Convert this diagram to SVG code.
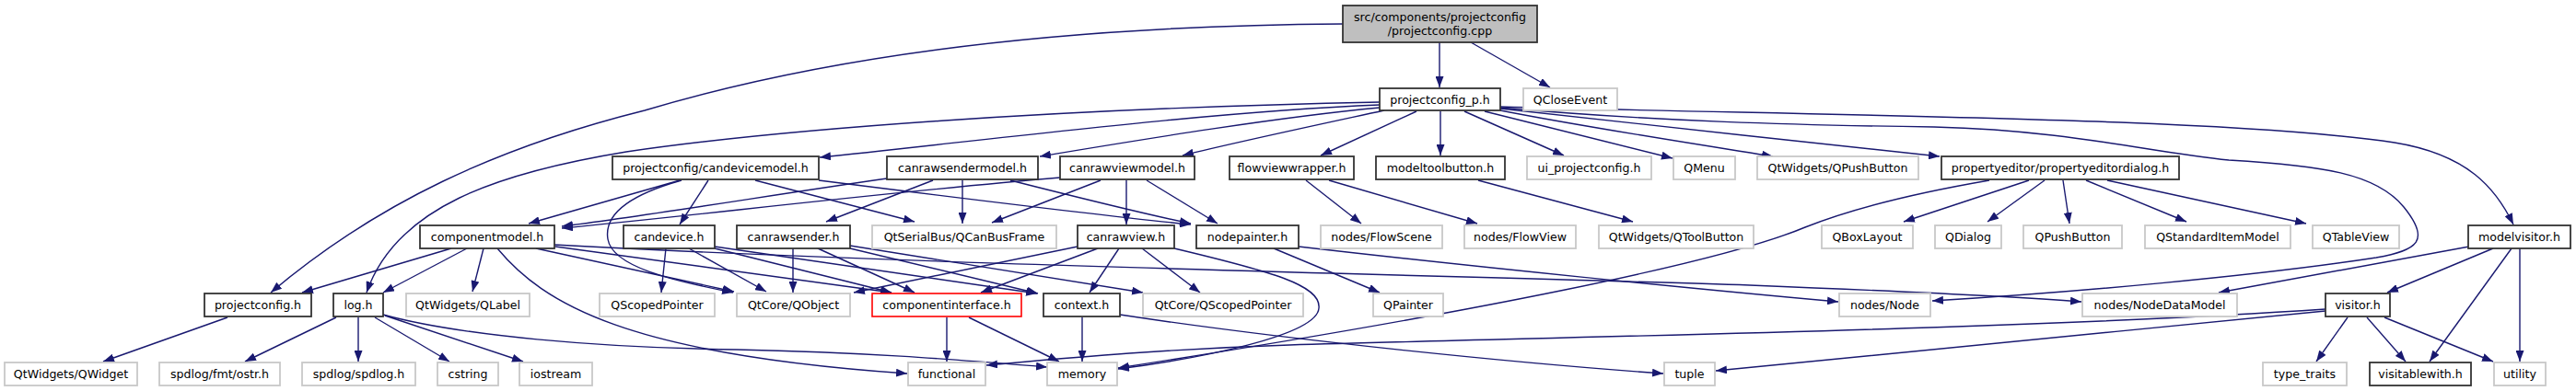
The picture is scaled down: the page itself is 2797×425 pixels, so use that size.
<svg xmlns="http://www.w3.org/2000/svg" width="2797" height="425" viewBox="0 0 2797 425">
<defs>
<marker id="ah" viewBox="0 0 12 9" refX="12" refY="4.5" markerWidth="12" markerHeight="9" markerUnits="userSpaceOnUse" orient="auto">
<path d="M0,0 L12,4.5 L0,9 z" fill="#191970"/>
</marker>
<style>
.n rect{fill:#fff;stroke:#333;stroke-width:1.8}
.g rect{fill:#fff;stroke:#c8c8c8;stroke-width:1.8}
.r rect{fill:#fff;stroke:#ff0000;stroke-width:1.6}
.root rect{fill:#bfbfbf;stroke:#333;stroke-width:1.8}
text{font-family:"DejaVu Sans","Liberation Sans",sans-serif;font-size:12.6px;fill:#000;text-anchor:middle}
#edges path{fill:none;stroke:#191970;stroke-width:1.4;marker-end:url(#ah)}
</style>
</defs>
<rect width="2797" height="425" fill="#fff"/>
<g id="edges">
<path d="M1563,46 L1563,95"/>
<path d="M1597,46 L1683,95"/>
<path d="M1458,26 C1150,28 900,60 700,120 C540,160 410,220 294,318"/>
<path d="M1498,111 C1150,118 850,140 680,165 C540,188 430,225 398,318"/>
<path d="M1498,114 C1300,122 1050,155 890,171"/>
<path d="M1498,117 C1380,128 1220,155 1129,170"/>
<path d="M1503,120 C1420,138 1340,155 1284,169"/>
<path d="M1538,121 L1434,169"/>
<path d="M1564,121 L1564,169"/>
<path d="M1590,121 L1698,169"/>
<path d="M1612,121 L1816,172"/>
<path d="M1629,120 C1720,138 1850,158 1925,170"/>
<path d="M1629,118 C1760,132 1960,155 2106,170"/>
<path d="M1629,116 C2000,126 2420,128 2600,155 C2680,168 2710,205 2729,244"/>
<path d="M1629,117 C1800,132 1950,136 2100,138 C2250,142 2330,165 2420,174 C2520,180 2580,188 2610,225 C2640,262 2625,272 2580,280 C2450,300 2250,318 2098,327"/>
<path d="M738,196 L574,243"/>
<path d="M769,196 L738,244"/>
<path d="M740,196 C690,210 655,230 660,260 C665,290 730,305 796,318"/>
<path d="M820,196 L993,241"/>
<path d="M889,196 C1000,210 1200,235 1293,244"/>
<path d="M963,194 C850,210 700,235 610,246"/>
<path d="M1013,196 L897,241"/>
<path d="M1045,196 L1045,243"/>
<path d="M1097,196 C1160,212 1240,232 1293,243"/>
<path d="M1151,193 C950,210 750,235 610,248"/>
<path d="M1195,196 L1077,242"/>
<path d="M1223,196 L1223,244"/>
<path d="M1245,196 L1322,243"/>
<path d="M1418,196 L1478,243"/>
<path d="M1443,196 L1604,243"/>
<path d="M1605,196 L1773,241"/>
<path d="M2160,196 C2050,215 1990,235 1960,247 C1870,285 1600,340 1214,400"/>
<path d="M2203,196 L2067,241"/>
<path d="M2220,196 L2158,241"/>
<path d="M2240,196 L2247,243"/>
<path d="M2265,196 L2374,241"/>
<path d="M2288,196 L2504,243"/>
<path d="M490,270 L328,318"/>
<path d="M507,270 L416,318"/>
<path d="M525,270 L513,317"/>
<path d="M582,270 L797,317"/>
<path d="M603,268 L968,318"/>
<path d="M602,266 C1000,288 1600,300 1900,310 C2050,316 2180,322 2260,328"/>
<path d="M540,270 C590,330 680,385 985,406"/>
<path d="M723,270 L718,318"/>
<path d="M748,270 L832,317"/>
<path d="M776,270 L968,318"/>
<path d="M776,268 L1126,319"/>
<path d="M861,270 L861,318"/>
<path d="M888,270 L993,318"/>
<path d="M923,270 L1127,319"/>
<path d="M923,267 L1241,318"/>
<path d="M1170,268 L927,318"/>
<path d="M1192,270 L1065,318"/>
<path d="M1215,270 L1183,318"/>
<path d="M1240,270 L1303,318"/>
<path d="M1275,270 C1380,295 1435,310 1432,335 C1430,365 1300,390 1214,401"/>
<path d="M1383,270 L1498,318"/>
<path d="M1410,268 C1600,290 1850,315 1996,328"/>
<path d="M247,345 L112,393"/>
<path d="M365,345 L266,393"/>
<path d="M389,345 L389,393"/>
<path d="M407,345 L488,393"/>
<path d="M418,343 L568,393"/>
<path d="M416,342 C500,365 650,378 800,380 C950,383 1050,392 1137,399"/>
<path d="M1028,345 L1028,393"/>
<path d="M1052,345 L1150,393"/>
<path d="M1175,345 L1175,393"/>
<path d="M1216,342 C1400,370 1650,395 1806,406"/>
<path d="M2681,268 L2409,318"/>
<path d="M2707,270 L2592,318"/>
<path d="M2727,270 L2638,393"/>
<path d="M2736,270 L2736,393"/>
<path d="M2549,345 L2515,393"/>
<path d="M2570,345 L2612,393"/>
<path d="M2589,345 L2707,393"/>
<path d="M2525,336 C2200,358 1700,366 1400,375 C1250,380 1150,390 1071,397"/>
<path d="M2525,338 C2300,360 2000,390 1863,403"/>
</g>
<g id="root" class="root"><rect x="1458" y="6" width="211" height="40"/><text x="1563.5" y="23">src/components/projectconfig</text><text x="1563.5" y="37.5">/projectconfig.cpp</text></g>
<g id="pcp" class="n"><rect x="1498" y="96" width="131" height="24"/><text x="1563.5" y="112.5">projectconfig_p.h</text></g>
<g id="qcloseevent" class="g"><rect x="1654" y="96" width="102" height="24"/><text x="1705" y="112.5">QCloseEvent</text></g>
<g id="cdm" class="n"><rect x="665" y="170" width="224" height="25"/><text x="777" y="186.5">projectconfig/candevicemodel.h</text></g>
<g id="crsm" class="n"><rect x="963" y="170" width="164" height="25"/><text x="1045" y="186.5">canrawsendermodel.h</text></g>
<g id="crvm" class="n"><rect x="1151" y="170" width="146" height="25"/><text x="1224" y="186.5">canrawviewmodel.h</text></g>
<g id="fvw" class="n"><rect x="1335" y="170" width="135" height="25"/><text x="1402.5" y="186.5">flowviewwrapper.h</text></g>
<g id="mtb" class="n"><rect x="1494" y="170" width="140" height="25"/><text x="1564" y="186.5">modeltoolbutton.h</text></g>
<g id="ui" class="g"><rect x="1658" y="170" width="135" height="25"/><text x="1725.5" y="186.5">ui_projectconfig.h</text></g>
<g id="qmenu" class="g"><rect x="1817" y="170" width="67" height="25"/><text x="1850.5" y="186.5">QMenu</text></g>
<g id="qpushbuttonw" class="g"><rect x="1908" y="170" width="175" height="25"/><text x="1995.5" y="186.5">QtWidgets/QPushButton</text></g>
<g id="ped" class="n"><rect x="2108" y="170" width="258" height="25"/><text x="2237" y="186.5">propertyeditor/propertyeditordialog.h</text></g>
<g id="cm" class="n"><rect x="456" y="245" width="146" height="25"/><text x="529" y="261.5">componentmodel.h</text></g>
<g id="cd" class="n"><rect x="677" y="245" width="99" height="25"/><text x="726.5" y="261.5">candevice.h</text></g>
<g id="crs" class="n"><rect x="800" y="245" width="123" height="25"/><text x="861.5" y="261.5">canrawsender.h</text></g>
<g id="qcanbusframe" class="g"><rect x="947" y="245" width="200" height="25"/><text x="1047" y="261.5">QtSerialBus/QCanBusFrame</text></g>
<g id="crv" class="n"><rect x="1170" y="245" width="105" height="25"/><text x="1222.5" y="261.5">canrawview.h</text></g>
<g id="np" class="n"><rect x="1299" y="245" width="111" height="25"/><text x="1354.5" y="261.5">nodepainter.h</text></g>
<g id="flowscene" class="g"><rect x="1434" y="245" width="132" height="25"/><text x="1500" y="261.5">nodes/FlowScene</text></g>
<g id="flowview" class="g"><rect x="1590" y="245" width="121" height="25"/><text x="1650.5" y="261.5">nodes/FlowView</text></g>
<g id="qtoolbutton" class="g"><rect x="1736" y="245" width="168" height="25"/><text x="1820" y="261.5">QtWidgets/QToolButton</text></g>
<g id="qboxlayout" class="g"><rect x="1978" y="245" width="99" height="25"/><text x="2027.5" y="261.5">QBoxLayout</text></g>
<g id="qdialog" class="g"><rect x="2101" y="245" width="72" height="25"/><text x="2137" y="261.5">QDialog</text></g>
<g id="qpushbutton" class="g"><rect x="2197" y="245" width="107" height="25"/><text x="2250.5" y="261.5">QPushButton</text></g>
<g id="qstandarditemmodel" class="g"><rect x="2329" y="245" width="158" height="25"/><text x="2408" y="261.5">QStandardItemModel</text></g>
<g id="qtableview" class="g"><rect x="2511" y="245" width="94" height="25"/><text x="2558" y="261.5">QTableView</text></g>
<g id="mv" class="n"><rect x="2680" y="245" width="111" height="25"/><text x="2735.5" y="261.5">modelvisitor.h</text></g>
<g id="pc" class="n"><rect x="222" y="319" width="116" height="25"/><text x="280" y="335.5">projectconfig.h</text></g>
<g id="log" class="n"><rect x="362" y="319" width="54" height="25"/><text x="389" y="335.5">log.h</text></g>
<g id="qlabel" class="g"><rect x="441" y="319" width="134" height="25"/><text x="508" y="335.5">QtWidgets/QLabel</text></g>
<g id="qscopedpointer" class="g"><rect x="651" y="319" width="125" height="25"/><text x="713.5" y="335.5">QScopedPointer</text></g>
<g id="qobject" class="g"><rect x="800" y="319" width="123" height="25"/><text x="861.5" y="335.5">QtCore/QObject</text></g>
<g id="ci" class="r"><rect x="947" y="319" width="162" height="25"/><text x="1028" y="335.5">componentinterface.h</text></g>
<g id="ctx" class="n"><rect x="1133" y="319" width="83" height="25"/><text x="1174.5" y="335.5">context.h</text></g>
<g id="qcoreqsp" class="g"><rect x="1241" y="319" width="174" height="25"/><text x="1328" y="335.5">QtCore/QScopedPointer</text></g>
<g id="qpainter" class="g"><rect x="1491" y="319" width="76" height="25"/><text x="1529" y="335.5">QPainter</text></g>
<g id="node" class="g"><rect x="1997" y="319" width="99" height="25"/><text x="2046.5" y="335.5">nodes/Node</text></g>
<g id="ndm" class="g"><rect x="2261" y="319" width="168" height="25"/><text x="2345" y="335.5">nodes/NodeDataModel</text></g>
<g id="visitor" class="n"><rect x="2525" y="319" width="70" height="25"/><text x="2560" y="335.5">visitor.h</text></g>
<g id="qwidget" class="g"><rect x="5" y="394" width="144" height="25"/><text x="77" y="410.5">QtWidgets/QWidget</text></g>
<g id="ostr" class="g"><rect x="173" y="394" width="131" height="25"/><text x="238.5" y="410.5">spdlog/fmt/ostr.h</text></g>
<g id="spdlog" class="g"><rect x="328" y="394" width="123" height="25"/><text x="389.5" y="410.5">spdlog/spdlog.h</text></g>
<g id="cstring" class="g"><rect x="475" y="394" width="66" height="25"/><text x="508" y="410.5">cstring</text></g>
<g id="iostream" class="g"><rect x="564" y="394" width="79" height="25"/><text x="603.5" y="410.5">iostream</text></g>
<g id="functional" class="g"><rect x="986" y="394" width="84" height="25"/><text x="1028" y="410.5">functional</text></g>
<g id="memory" class="g"><rect x="1137" y="394" width="76" height="25"/><text x="1175" y="410.5">memory</text></g>
<g id="tuple" class="g"><rect x="1807" y="394" width="55" height="25"/><text x="1834.5" y="410.5">tuple</text></g>
<g id="type_traits" class="g"><rect x="2457" y="394" width="91" height="25"/><text x="2502.5" y="410.5">type_traits</text></g>
<g id="visitablewith" class="n"><rect x="2573" y="394" width="110" height="25"/><text x="2628" y="410.5">visitablewith.h</text></g>
<g id="utility" class="g"><rect x="2708" y="394" width="56" height="25"/><text x="2736" y="410.5">utility</text></g>
</svg>
